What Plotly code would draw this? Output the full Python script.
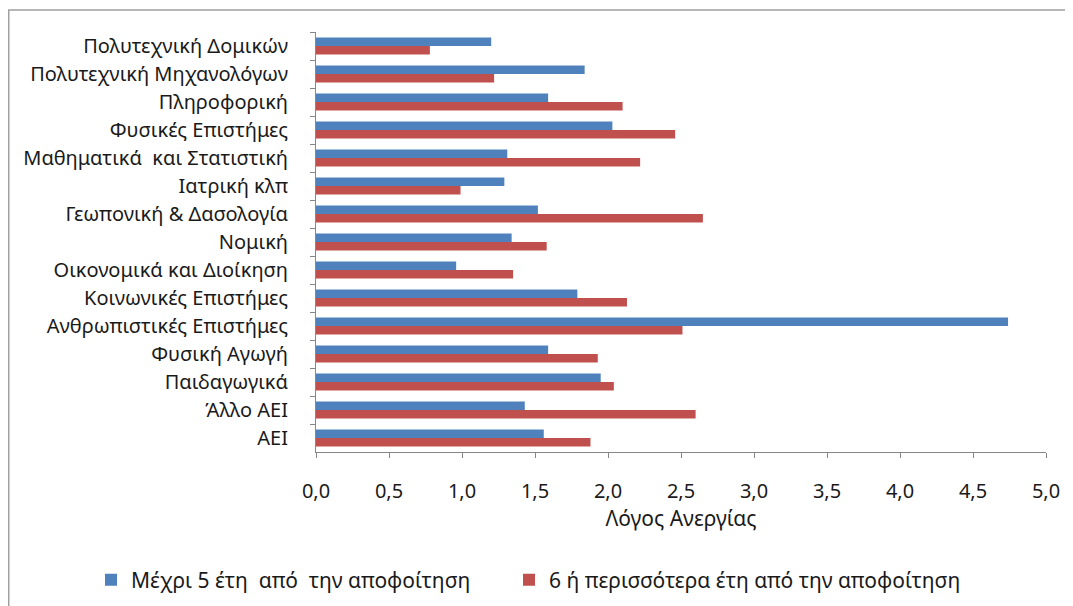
import plotly.graph_objects as go

categories = [
    'Πολυτεχνική Δομικών',
    'Πολυτεχνική Μηχανολόγων',
    'Πληροφορική',
    'Φυσικές Επιστήμες',
    'Μαθηματικά  και Στατιστική',
    'Ιατρική κλπ',
    'Γεωπονική & Δασολογία',
    'Νομική',
    'Οικονομικά και Διοίκηση',
    'Κοινωνικές Επιστήμες',
    'Ανθρωπιστικές Επιστήμες',
    'Φυσική Αγωγή',
    'Παιδαγωγικά',
    'Άλλο ΑΕΙ',
    'ΑΕΙ',
]
upto5 = [1.20, 1.84, 1.59, 2.03, 1.31, 1.29, 1.52, 1.34, 0.96, 1.79, 4.74, 1.59, 1.95, 1.43, 1.56]
over6 = [0.78, 1.22, 2.10, 2.46, 2.22, 0.99, 2.65, 1.58, 1.35, 2.13, 2.51, 1.93, 2.04, 2.60, 1.88]

name_blue = 'Μέχρι 5 έτη  από  την αποφοίτηση'
name_red = '6 ή περισσότερα έτη από την αποφοίτηση'

xticks = [i * 0.5 for i in range(11)]
xtick_text = [f'{v:.1f}'.replace('.', ',') for v in xticks]

font = 'Noto Sans, sans-serif'

fig = go.Figure()
fig.add_trace(go.Bar(y=categories, x=upto5, name=name_blue, orientation='h',
                     marker=dict(color='#4F81BD', line=dict(width=0)),
                     legend='legend'))
fig.add_trace(go.Bar(y=categories, x=over6, name=name_red, orientation='h',
                     marker=dict(color='#C0504D', line=dict(width=0)),
                     legend='legend2'))

# page has an 8px body margin, so the figure is a bit smaller than the window
fig.update_layout(
    width=1065, height=598,
    margin=dict(l=308, r=27, t=24, b=154, autoexpand=False),
    paper_bgcolor='white', plot_bgcolor='white',
    barmode='group', bargap=0.40, bargroupgap=0,
    font=dict(family=font, size=20, color='#1a1a1a'),
    showlegend=True,
    legend=dict(orientation='h', x=-0.3082, xanchor='left', y=-0.305, yanchor='middle',
                font=dict(size=21), bgcolor='rgba(0,0,0,0)'),
    legend2=dict(orientation='h', x=0.2644, xanchor='left', y=-0.305, yanchor='middle',
                 font=dict(size=21), bgcolor='rgba(0,0,0,0)'),
)

fig.update_xaxes(range=[0, 5], tickvals=xticks, ticktext=xtick_text,
                 showgrid=False, zeroline=False, showline=True,
                 linecolor='#868686', linewidth=1,
                 ticks='outside', ticklen=5, tickcolor='#868686',
                 ticklabelstandoff=16, tickfont=dict(size=20),
                 title=dict(text='Λόγος Ανεργίας', font=dict(size=21), standoff=6))
fig.update_yaxes(autorange='reversed', showgrid=False, showline=True,
                 linecolor='#868686', linewidth=1,
                 ticks='outside', ticklen=5, tickcolor='#868686',
                 tickson='boundaries', ticklabelstandoff=23,
                 tickfont=dict(size=20))

# outer chart border
fig.add_shape(type='rect', xref='paper', yref='paper',
              x0=-0.4209, x1=1.06, y0=-0.42, y1=1.0524,
              line=dict(color='#A0A0A0', width=1.5), fillcolor='rgba(0,0,0,0)')

fig.write_html('out.html')
